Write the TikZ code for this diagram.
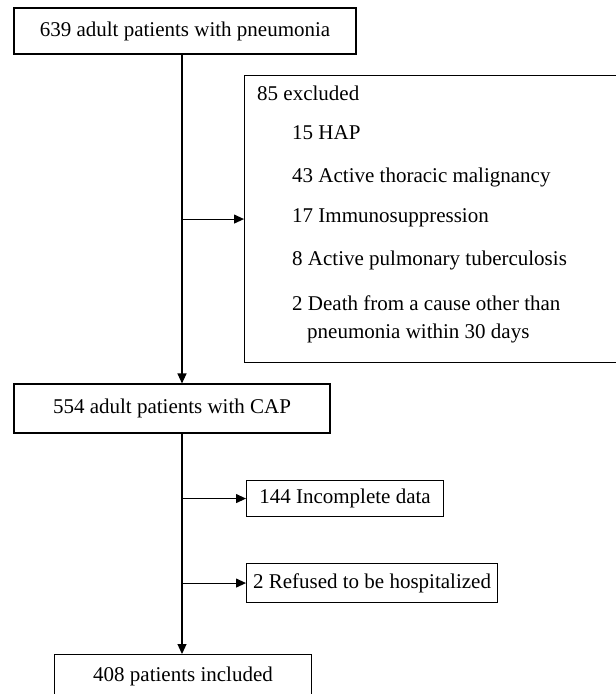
\documentclass[tikz,border=0pt]{standalone}
\usepackage{fontspec}
\setmainfont{Liberation Serif}
\usetikzlibrary{arrows.meta,positioning}

\begin{document}
\begin{tikzpicture}[x=1pt,y=-1pt,
  box/.style={draw, line width=1.1pt, inner sep=0pt, font=\fontsize{21}{25}\selectfont},
  item/.style={anchor=west, inner sep=0pt, font=\fontsize{21}{25}\selectfont},
  arr/.style={line width=1.1pt, -{Triangle[length=10pt,width=9pt]}}]
\useasboundingbox (0,0) rectangle (616,694);
\clip (0,0) rectangle (616,694);

% Kaesten
\node[box, minimum width=342pt, minimum height=46pt] (all) at (185,31) {639 adult patients with pneumonia};
\node[box, minimum width=316pt, minimum height=49pt] (cap) at (172,408.5) {554 adult patients with CAP};
\node[box, anchor=north west, minimum width=197pt, minimum height=36pt] (inc) at (246,480) {144 Incomplete data};
\node[box, anchor=north west, minimum width=251pt, minimum height=39pt] (ref) at (246,563) {2 Refused to be hospitalized};
\node[box, anchor=north west, minimum width=257pt, minimum height=44pt] (incl) at (54,654) {408 patients included};

% Ausschluss
\node[box, anchor=north west, minimum width=420pt, minimum height=287pt] (excl) at (244,75) {};
\node[item] (ex0) at (257,93) {85 excluded};
\node[item] (ex1) at (292,133) {15 HAP};
\node[item] (ex2) at (292,177) {43 Active thoracic malignancy};
\node[item] (ex3) at (292,218) {17 Immunosuppression};
\node[item] (ex4) at (292,260) {8 Active pulmonary tuberculosis};
\node[item] (ex5) at (292,303) {2 Death from a cause other than};
\node[item] (ex6) at (307,333) {pneumonia within 30 days};

% Pfeile
\coordinate (spine) at (182,0);
\draw[arr] (all.south -| spine) -- (cap.north -| spine);
\draw[arr] (cap.south -| spine) -- (incl.north -| spine);
\draw[arr] (excl.west -| spine) -- (excl.west);
\draw[arr] (inc.west -| spine) -- (inc.west);
\draw[arr] (ref.west -| spine) -- (ref.west);

\end{tikzpicture}
\end{document}
